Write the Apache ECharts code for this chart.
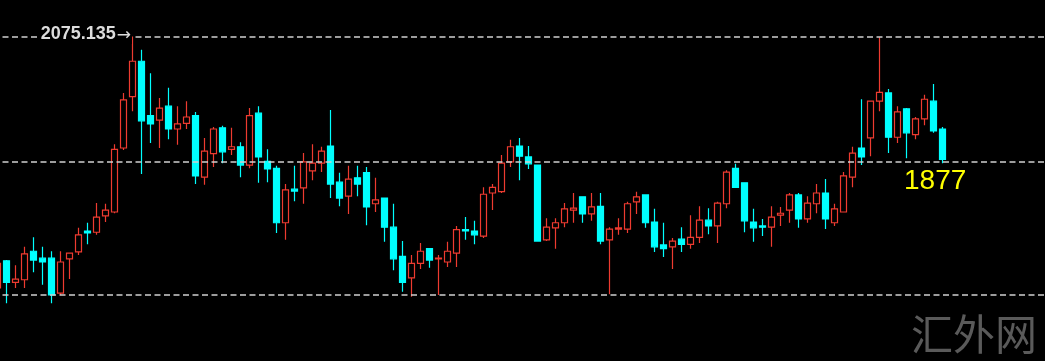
<!DOCTYPE html>
<html>
<head>
<meta charset="utf-8">
<script src="https://cdn.jsdelivr.net/npm/echarts@6/dist/echarts.min.js"></script>
<style>
html,body{margin:0;padding:0;background:#000;overflow:hidden;width:1045px;height:361px;position:relative;}
#chart{position:absolute;left:-7px;top:0;width:1053px;height:361px;}
</style>
</head>
<body>
<div id="chart"></div>
<script>
// Daily candles (left to right). The first one is only partly visible at the left edge.
const opens = [
  1678,1721,1687,1691,1736,1725,1725,1670,1724,1735,
  1768,1766,1792,1798,1899,1980,2036,1950,1943,1965,
  1929,1938,1950,1853,1890,1931,1897,1901,1872,1954,
  1878,1867,1781,1834,1836,1863,1875,1902,1845,1823,
  1852,1860,1811,1820,1774,1728,1694,1717,1740,1724,
  1719,1733,1770,1768,1760,1828,1830,1877,1902,1885,
  1872,1754,1773,1781,1801,1822,1795,1807,1754,1771,
  1771,1814,1825,1782,1746,1743,1755,1747,1758,1785,
  1776,1811,1867,1844,1782,1776,1774,1793,1801,1825,
  1787,1811,1828,1781,1798,1853,1899,1915,1973,1986,
  1916,1961,1920,1945,1973,1929
];
const closes = [
  1717,1687,1692,1732,1722,1719,1667,1719,1733,1762,
  1765,1790,1801,1897,1975,2036,1942,1937,1962,1929,
  1937,1948,1855,1894,1929,1893,1901,1872,1950,1885,
  1866,1781,1833,1831,1877,1875,1894,1842,1820,1850,
  1842,1806,1817,1774,1724,1687,1717,1736,1722,1725,
  1736,1770,1768,1762,1826,1837,1875,1901,1886,1874,
  1752,1774,1781,1803,1804,1795,1806,1752,1771,1773,
  1811,1822,1781,1743,1740,1752,1747,1758,1785,1776,
  1812,1861,1837,1784,1773,1774,1790,1796,1825,1787,
  1812,1828,1787,1803,1855,1891,1885,1973,1987,1916,
  1956,1923,1945,1976,1926,1881
];
const lows = [
  1672,1654,1678,1678,1703,1683,1654,1667,1692,1730,
  1747,1762,1782,1796,1896,1957,1858,1907,1899,1913,
  1904,1929,1842,1841,1869,1875,1888,1853,1867,1844,
  1845,1765,1754,1815,1811,1848,1861,1820,1807,1795,
  1823,1777,1798,1751,1706,1672,1664,1708,1710,1667,
  1711,1711,1754,1747,1757,1801,1828,1869,1848,1866,
  1751,1752,1740,1774,1781,1781,1784,1747,1668,1762,
  1765,1795,1773,1735,1727,1708,1735,1740,1749,1763,
  1749,1804,1836,1766,1751,1760,1743,1776,1781,1773,
  1781,1796,1771,1776,1797,1837,1872,1886,1957,1891,
  1907,1883,1913,1935,1923,1875
];
const highs = [
  1725,1722,1714,1743,1758,1743,1736,1736,1734,1773,
  1781,1812,1811,1905,1986,2075.135,2054,2017,1978,1994,
  1965,1973,1956,1915,1932,1934,1931,1908,1962,1965,
  1897,1871,1842,1871,1891,1905,1901,1959,1860,1871,
  1871,1869,1852,1821,1811,1752,1730,1749,1741,1730,
  1751,1776,1790,1784,1837,1842,1888,1912,1915,1902,
  1873,1788,1788,1812,1828,1823,1828,1828,1774,1788,
  1814,1830,1826,1803,1781,1757,1774,1793,1807,1804,
  1814,1864,1874,1845,1803,1787,1807,1806,1828,1828,
  1823,1842,1850,1811,1861,1901,1976,1974,2074,1992,
  1965,1962,1948,1983,2000,1932
];
// Category slots (the chart leaves empty room on the right after the last candle)
const dayLabels = Array.from({length: 117}, (_, i) => 'D' + (i + 1));
// Dashed horizontal levels: the peak, the current level and the support
const levels = [2075.135, 1877, 1667];
const peakIndex = 15;
const peakText = '2075.135';
const currentLabel = '1877';
const currentLabelIndex = 101;
const watermark = '汇外网';

const ohlc = opens.map((o, i) => [o, closes[i], lows[i], highs[i]]);

const chart = echarts.init(document.getElementById('chart'), null, {renderer: 'canvas'});
chart.setOption({
  backgroundColor: '#000',
  animation: false,
  grid: {left: 0, right: 0, top: 0, bottom: 0},
  xAxis: {type: 'category', data: dayLabels, show: false, boundaryGap: true},
  yAxis: {type: 'value', min: 1562.7, max: 2132.7, show: false, splitLine: {show: false}},
  series: [{
    type: 'candlestick',
    data: ohlc,
    barWidth: 7,
    itemStyle: {
      color: '#000000',
      color0: '#00ffff',
      borderColor: '#ee3b30',
      borderColor0: '#00ffff',
      borderWidth: 1.2
    },
    markLine: {
      silent: true,
      symbol: ['none', 'none'],
      label: {show: false},
      lineStyle: {color: '#cfcfcf', type: [6, 3.5], width: 1.5},
      emphasis: {disabled: true},
      data: levels.map(v => ({yAxis: v}))
    },
    markPoint: {
      silent: true,
      symbol: 'circle',
      symbolSize: 1,
      itemStyle: {color: 'rgba(0,0,0,0)'},
      data: [
        {
          coord: [dayLabels[peakIndex], highs[peakIndex]],
          label: {
            show: true, formatter: '{a|' + peakText + '}{b|→}', position: 'left', distance: 0,
            offset: [0, -2],
            backgroundColor: '#000', padding: [0, 1],
            rich: {
              a: {color: '#dcdcdc', fontSize: 18, fontWeight: 'bold',
                  fontFamily: 'Arial, "Liberation Sans", sans-serif'},
              b: {color: '#dcdcdc', fontSize: 17, fontFamily: '"DejaVu Sans", sans-serif',
                  padding: [2, 0, 0, 1]}
            }
          }
        },
        {
          coord: [dayLabels[currentLabelIndex], levels[1]],
          label: {
            show: true, formatter: currentLabel, position: [-2, 6],
            color: '#ffff00', fontSize: 28,
            fontFamily: 'Arial, "Liberation Sans", sans-serif'
          }
        }
      ]
    }
  }],
  graphic: [{
    type: 'text',
    right: 9,
    bottom: 6,
    silent: true,
    style: {
      text: watermark,
      fill: '#5a5a5a',
      fontSize: 42,
      fontFamily: '"Noto Sans CJK SC", sans-serif'
    }
  }]
});
</script>
</body>
</html>
